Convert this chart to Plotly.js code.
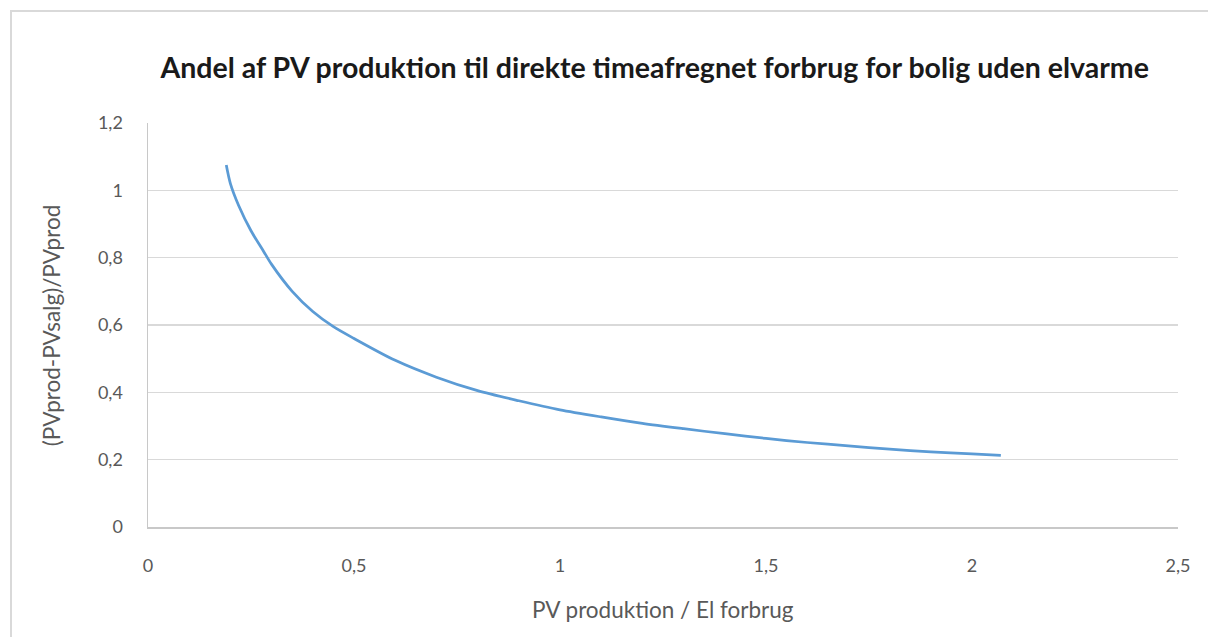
<!DOCTYPE html>
<html>
<head>
<meta charset="utf-8">
<script src="https://cdn.plot.ly/plotly-3.0.1.min.js"></script>
<style>
  html, body { margin: 0; padding: 0; background: #ffffff; }
  #wrap { position: relative; width: 1208px; height: 637px; overflow: hidden; }
  #frame { position: absolute; left: 10px; top: 10px; width: 1300px; height: 700px;
           border-left: 2px solid #d9d9d9; border-top: 2px solid #d9d9d9; box-sizing: border-box; pointer-events: none; }
  #chart { position: absolute; left: 0; top: 0; width: 1208px; height: 637px; }
</style>
</head>
<body>
<div id="wrap">
  <div id="chart"></div>
  <div id="frame"></div>
</div>
<script>
// PV production relative to consumption, and the share used directly
const pvRatio = [0.19, 0.20, 0.22, 0.25, 0.28, 0.30, 0.35, 0.40, 0.45, 0.50,
                 0.60, 0.70, 0.80, 0.90, 1.00, 1.10, 1.20, 1.30, 1.40, 1.50,
                 1.60, 1.70, 1.80, 1.90, 2.00, 2.07];
const directShare = [1.075, 1.02, 0.955, 0.88, 0.82, 0.78, 0.70, 0.64, 0.595, 0.56,
                     0.495, 0.445, 0.405, 0.375, 0.348, 0.327, 0.308, 0.292, 0.277, 0.263,
                     0.251, 0.241, 0.231, 0.223, 0.217, 0.213];

const xTickVals = [0, 0.5, 1, 1.5, 2, 2.5];
const xTickText = ['0', '0,5', '1', '1,5', '2', '2,5'];
const yTickVals = [0, 0.2, 0.4, 0.6, 0.8, 1, 1.2];
const yTickText = ['0', '0,2', '0,4', '0,6', '0,8', '1', '1,2'];

const titleText = 'Andel af PV produktion til direkte timeafregnet forbrug for bolig uden elvarme';
const xTitle = 'PV produktion / El forbrug';
const yTitle = '(PVprod-PVsalg)/PVprod';

const fontFam = 'Lato, "Open Sans", sans-serif';
const tickColor = '#595959';

const trace = {
  x: pvRatio,
  y: directShare,
  type: 'scatter',
  mode: 'lines',
  line: { color: '#5b9bd5', width: 2.75, shape: 'spline', smoothing: 0.8 },
  hoverinfo: 'x+y'
};

const layout = {
  width: 1208,
  height: 637,
  margin: { l: 148, r: 30, t: 123, b: 110 },
  paper_bgcolor: 'rgba(0,0,0,0)',
  plot_bgcolor: '#ffffff',
  showlegend: false,
  title: {
    text: '<b>' + titleText + '</b>',
    x: 0.542, xanchor: 'center',
    y: 0.893, yanchor: 'middle',
    font: { family: fontFam, size: 28.5, color: '#1a1a1a' }
  },
  xaxis: {
    range: [0, 2.5],
    tickvals: xTickVals,
    ticktext: xTickText,
    showgrid: false,
    zeroline: false,
    showline: true,
    linecolor: '#c8c8c8',
    linewidth: 1.5,
    ticks: '',
    ticklabelstandoff: 22,
    tickfont: { family: fontFam, size: 18, color: tickColor },
    fixedrange: true
  },
  yaxis: {
    range: [0, 1.2],
    tickvals: yTickVals,
    ticktext: yTickText,
    showgrid: true,
    gridcolor: '#d9d9d9',
    gridwidth: 1.5,
    zeroline: false,
    showline: true,
    linecolor: '#c8c8c8',
    linewidth: 1.5,
    ticks: '',
    ticklabelstandoff: 20,
    tickfont: { family: fontFam, size: 18, color: tickColor },
    fixedrange: true
  },
  annotations: [
    {
      text: xTitle, xref: 'paper', yref: 'paper',
      x: 0.5, y: -0.205, xanchor: 'center', yanchor: 'middle',
      showarrow: false,
      font: { family: fontFam, size: 22.5, color: tickColor }
    },
    {
      text: yTitle, xref: 'paper', yref: 'paper',
      x: -0.094, y: 0.5, xanchor: 'center', yanchor: 'middle',
      textangle: -90, showarrow: false,
      font: { family: fontFam, size: 22.5, color: tickColor }
    }
  ]
};

Plotly.newPlot('chart', [trace], layout, { displayModeBar: false, staticPlot: true });
</script>
</body>
</html>
